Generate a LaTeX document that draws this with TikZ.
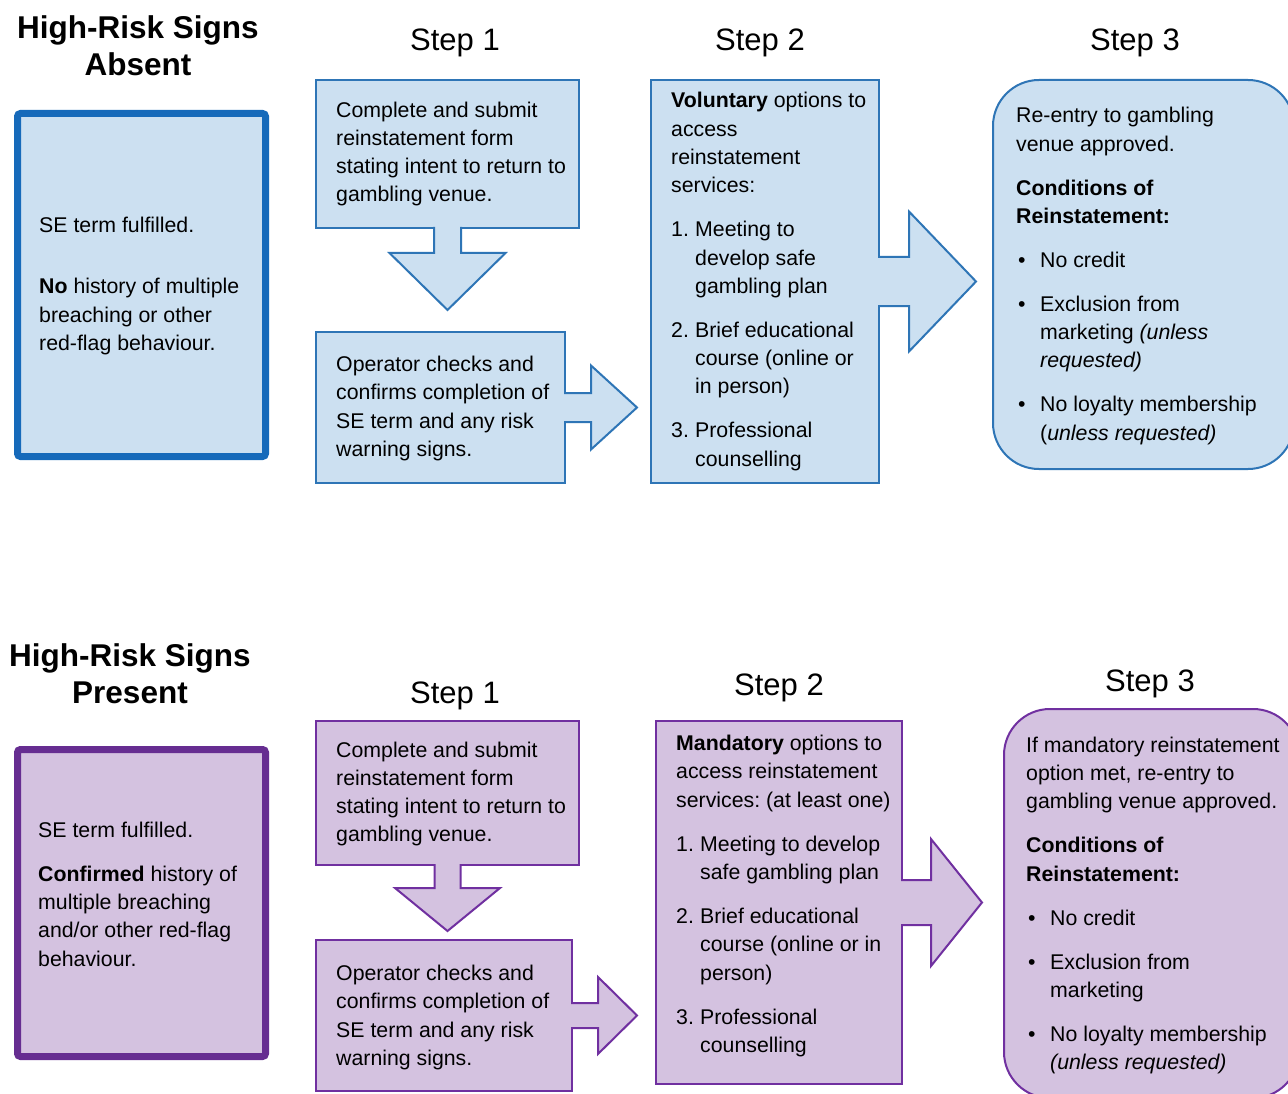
\documentclass[tikz,border=0pt]{standalone}
\usepackage{fontspec}
\setmainfont{Liberation Sans}
\frenchspacing

\definecolor{fillblue}{RGB}{204,224,241}
\definecolor{lineblue}{RGB}{46,117,182}
\definecolor{darkblue}{RGB}{22,106,186}
\definecolor{fillpurple}{RGB}{212,194,224}
\definecolor{linepurple}{RGB}{112,48,160}
\definecolor{darkpurple}{RGB}{102,45,145}

\newcommand{\listno}[1]{\makebox[24pt][l]{#1}}
\newcommand{\listind}{\hspace*{24pt}}
\newcommand{\listbul}{\makebox[24pt][l]{\hspace{2pt}\textbullet}}

\begin{document}
\begin{tikzpicture}[x=1pt,y=-1pt,
  bluebox/.style={draw=lineblue,fill=fillblue,line width=2pt,anchor=north west,inner sep=0pt},
  purplebox/.style={draw=linepurple,fill=fillpurple,line width=2pt,anchor=north west,inner sep=0pt},
  bluearrow/.style={draw=lineblue,fill=fillblue,line width=2pt,line join=miter},
  purplearrow/.style={draw=linepurple,fill=fillpurple,line width=2pt,line join=miter},
  txt/.style={align=left,inner sep=0pt,anchor=west,font=\fontsize{21.3}{28.3}\selectfont},
  heading/.style={align=center,inner sep=0pt,font=\fontsize{31.5}{37}\selectfont\bfseries},
  steplabel/.style={inner sep=0pt,anchor=base,font=\fontsize{31}{37}\selectfont}]

\useasboundingbox (0,0) rectangle (1288,1094);
\clip (0,0) rectangle (1288,1094);
\fill[white] (0,0) rectangle (1288,1094);

% signs absent
\node[heading] (absent) at (138,45.5) {High-Risk Signs\\Absent};
\node[steplabel] (a1lab) at (455,51) {Step 1};
\node[steplabel] (a3lab) at (760,51) {Step 2};
\node[steplabel] (a4lab) at (1135,51) {Step 3};

\node[bluebox,draw=darkblue,line width=7pt,rounded corners=3pt,minimum width=248pt,minimum height=343pt] (a0) at (14,110) {};
\node[bluebox,minimum width=263pt,minimum height=148pt] (a1) at (315,79) {};
\node[bluebox,minimum width=249pt,minimum height=151pt] (a2) at (315,331) {};
\node[bluebox,minimum width=228pt,minimum height=403pt] (a3) at (650,79) {};
\node[bluebox,rounded corners=46pt,minimum width=301pt,minimum height=389pt] (a4) at (992,79) {};

\filldraw[bluearrow] ([yshift=2pt]a1.south) ++(-13.5,0) -- ++(0,26) -- ++(-44.5,0) -- ++(58,57) -- ++(58,-57) -- ++(-44.5,0) -- ++(0,-26);
\filldraw[bluearrow] ([xshift=-2pt]a2.east) ++(0,-14.5) -- ++(27,0) -- ++(0,-27.5) -- ++(46,42) -- ++(-46,42) -- ++(0,-27.5) -- ++(-27,0);
\filldraw[bluearrow] ([xshift=-2pt]a3.east) ++(0,-24.5) -- ++(31,0) -- ++(0,-45.5) -- ++(67,70) -- ++(-67,70) -- ++(0,-45.5) -- ++(-31,0);

\node[txt] (a0t) at ([xshift=25pt,yshift=-1pt]a0.west) {SE term fulfilled.\\[32.7pt]
  \textbf{No} history of multiple\\breaching or other\\red-flag behaviour.};
\node[txt] (a1t) at ([xshift=21pt]a1.west) {Complete and submit\\reinstatement form\\stating intent to return to\\gambling venue.};
\node[txt] (a2t) at ([xshift=21pt,yshift=-1pt]a2.west) {Operator checks and\\confirms completion of\\SE term and any risk\\warning signs.};
\node[txt] (a3t) at ([xshift=21pt]a3.west) {\textbf{Voluntary} options to\\access\\reinstatement\\services:\\[15.7pt]
  \listno{1.}Meeting to\\\listind develop safe\\\listind gambling plan\\[15.7pt]
  \listno{2.}Brief educational\\\listind course (online or\\\listind in person)\\[15.7pt]
  \listno{3.}Professional\\\listind counselling};
\node[txt] (a4t) at ([xshift=24pt,yshift=-1.5pt]a4.west) {Re-entry to gambling\\venue approved.\\[15.7pt]
  \textbf{Conditions of}\\\textbf{Reinstatement:}\\[15.7pt]
  \listbul No credit\\[15.7pt]
  \listbul Exclusion from\\\listind marketing \textit{(unless}\\\listind\textit{requested)}\\[15.7pt]
  \listbul No loyalty membership\\\listind(\textit{unless requested)}};

% signs present
\node[heading] (present) at (130,674) {High-Risk Signs\\Present};
\node[steplabel] (b1lab) at (455,703) {Step 1};
\node[steplabel] (b3lab) at (779,695) {Step 2};
\node[steplabel] (b4lab) at (1150,691) {Step 3};

\node[purplebox,draw=darkpurple,line width=7pt,rounded corners=3pt,minimum width=248pt,minimum height=307pt] (b0) at (14,746) {};
\node[purplebox,minimum width=263pt,minimum height=144pt] (b1) at (315,720) {};
\node[purplebox,minimum width=256pt,minimum height=151pt] (b2) at (315,939) {};
\node[purplebox,minimum width=246pt,minimum height=363pt] (b3) at (655,720) {};
\node[purplebox,rounded corners=46pt,minimum width=295pt,minimum height=389pt] (b4) at (1003,708) {};

\filldraw[purplearrow] ([yshift=2pt]b1.south) ++(-13,0) -- ++(0,24) -- ++(-39.5,0) -- ++(52.5,43) -- ++(52.5,-43) -- ++(-39.5,0) -- ++(0,-24);
\filldraw[purplearrow] ([xshift=-2pt]b2.east) ++(0,-12.5) -- ++(27,0) -- ++(0,-26) -- ++(39,38.5) -- ++(-39,38.5) -- ++(0,-26) -- ++(-27,0);
\filldraw[purplearrow] ([xshift=-2pt]b3.east) ++(0,-22.5) -- ++(30,0) -- ++(0,-41) -- ++(51,63.5) -- ++(-51,63.5) -- ++(0,-41) -- ++(-30,0);

\node[txt] (b0t) at ([xshift=24pt,yshift=9pt]b0.west) {SE term fulfilled.\\[15.7pt]
  \textbf{Confirmed} history of\\multiple breaching\\and/or other red-flag\\behaviour.};
\node[txt] (b1t) at ([xshift=21pt,yshift=-1pt]b1.west) {Complete and submit\\reinstatement form\\stating intent to return to\\gambling venue.};
\node[txt] (b2t) at ([xshift=21pt,yshift=-2pt]b2.west) {Operator checks and\\confirms completion of\\SE term and any risk\\warning signs.};
\node[txt] (b3t) at ([xshift=21pt,yshift=6.5pt]b3.west) {\textbf{Mandatory} options to\\access reinstatement\\services: (at least one)\\[15.7pt]
  \listno{1.}Meeting to develop\\\listind safe gambling plan\\[15.7pt]
  \listno{2.}Brief educational\\\listind course (online or in\\\listind person)\\[15.7pt]
  \listno{3.}Professional\\\listind counselling};
\node[txt] (b4t) at ([xshift=23pt,yshift=-2pt]b4.west) {If mandatory reinstatement\\option met, re-entry to\\gambling venue approved.\\[15.7pt]
  \textbf{Conditions of}\\\textbf{Reinstatement:}\\[15.7pt]
  \listbul No credit\\[15.7pt]
  \listbul Exclusion from\\\listind marketing\\[15.7pt]
  \listbul No loyalty membership\\\listind\textit{(unless requested)}};

\end{tikzpicture}
\end{document}
